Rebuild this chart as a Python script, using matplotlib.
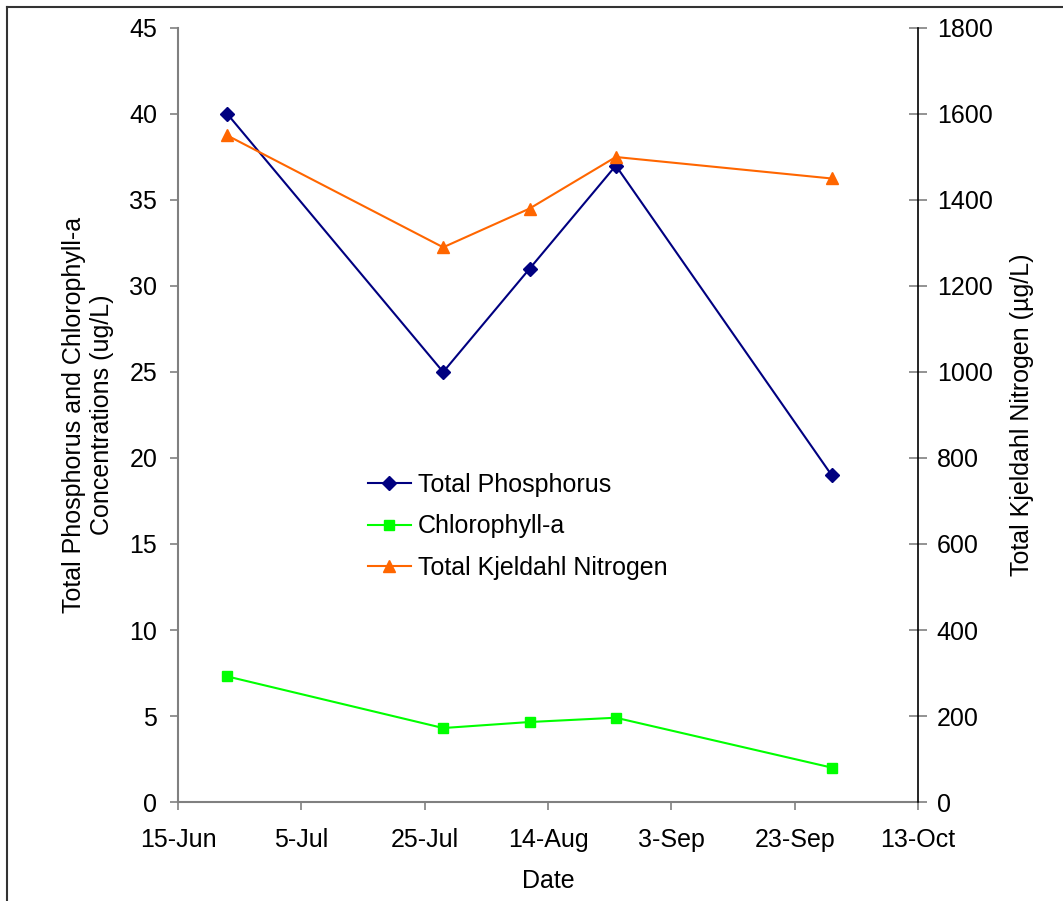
import matplotlib
matplotlib.use("Agg")
import matplotlib.pyplot as plt
import matplotlib.dates as mdates
from matplotlib.lines import Line2D
from datetime import datetime, timedelta

plt.rcParams['font.family'] = ['Liberation Sans', 'DejaVu Sans']

dates = ['2007-06-23', '2007-07-28', '2007-08-11', '2007-08-25', '2007-09-29']
total_phosphorus = [40, 25, 31, 37, 19]
chlorophyll_a = [7.3, 4.3, 4.65, 4.9, 2.0]
tkn = [1550, 1290, 1380, 1500, 1450]
x_start = '2007-06-15'
x_end = '2007-10-13'

x = [datetime.strptime(d, '%Y-%m-%d') for d in dates]
xs = datetime.strptime(x_start, '%Y-%m-%d')
xe = datetime.strptime(x_end, '%Y-%m-%d')

fig = plt.figure(figsize=(10.63, 9.01), dpi=100)
ax = fig.add_axes([178/1063, 1-802/901, 740/1063, 774/901])
ax2 = ax.twinx()

fs = 18
navy = '#000080'
lime = '#00FF00'
orange = '#FF6600'

l1, = ax.plot(x, total_phosphorus, color=navy, lw=1.5, marker='D', ms=7,
              label='Total Phosphorus')
l2, = ax.plot(x, chlorophyll_a, color=lime, lw=1.5, marker='s', ms=7,
              label='Chlorophyll-a')
l3, = ax2.plot(x, tkn, color=orange, lw=1.5, marker='^', ms=9,
               label='Total Kjeldahl Nitrogen')

ax.set_xlim(xs, xe)
ax.set_ylim(0, 45)
ax2.set_ylim(0, 1800)
ax.set_yticks(range(0, 46, 5))
ax2.set_yticks(range(0, 1801, 200))
ticks = [xs + timedelta(days=20*k) for k in range(7)]
ax.set_xticks(ticks)
ax.xaxis.set_major_formatter(mdates.DateFormatter('%-d-%b'))

for a in (ax, ax2):
    a.spines['top'].set_visible(False)
ax.spines['left'].set_color('#808080')
ax.spines['bottom'].set_color('#808080')
ax.spines['right'].set_visible(False)
ax2.spines['left'].set_visible(False)
ax2.spines['bottom'].set_visible(False)
ax2.spines['right'].set_color('black')
for s in ('left', 'bottom'):
    ax.spines[s].set_linewidth(1.5)
ax2.spines['right'].set_linewidth(1.2)

ax.tick_params(axis='y', direction='out', length=6, width=1.2,
               color='#808080', labelsize=fs, pad=9)
ax.tick_params(axis='x', direction='out', length=6, width=1.2,
               color='#808080', labelsize=fs, pad=13)
ax2.tick_params(axis='y', direction='inout', length=13, width=1.2,
                color='#808080', labelsize=fs, pad=7)

ax.set_xlabel('Date', fontsize=fs)
ax.xaxis.set_label_coords(0.5, -(881 - 802) / 774)
ax.xaxis.label.set_va('center')
ax.set_ylabel('Total Phosphorus and Chlorophyll-a\nConcentrations (ug/L)',
              fontsize=fs, linespacing=1.22)
ax.yaxis.set_label_coords((88 - 178) / 740, 0.5)
ax.yaxis.label.set_va('center')
ax2.set_ylabel('Total Kjeldahl Nitrogen (µg/L)', fontsize=fs)
ax2.yaxis.set_label_coords((1022 - 178) / 740, 0.5)
ax2.yaxis.label.set_va('center')

leg = fig.legend(handles=[l1, l2, l3], loc='upper left',
                 bbox_to_anchor=(368/1063, 1-473/901), frameon=False,
                 fontsize=fs, handlelength=1.7, handletextpad=0.3,
                 labelspacing=0.7, borderaxespad=0, borderpad=0)

# figure border (top and left)
fig.add_artist(Line2D([7/1063, 7/1063], [0, 1-7/901], transform=fig.transFigure,
                      color='#333333', lw=1.5))
fig.add_artist(Line2D([7/1063, 1], [1-7/901, 1-7/901], transform=fig.transFigure,
                      color='#333333', lw=1.5))

fig.savefig('out.png', dpi=100)
